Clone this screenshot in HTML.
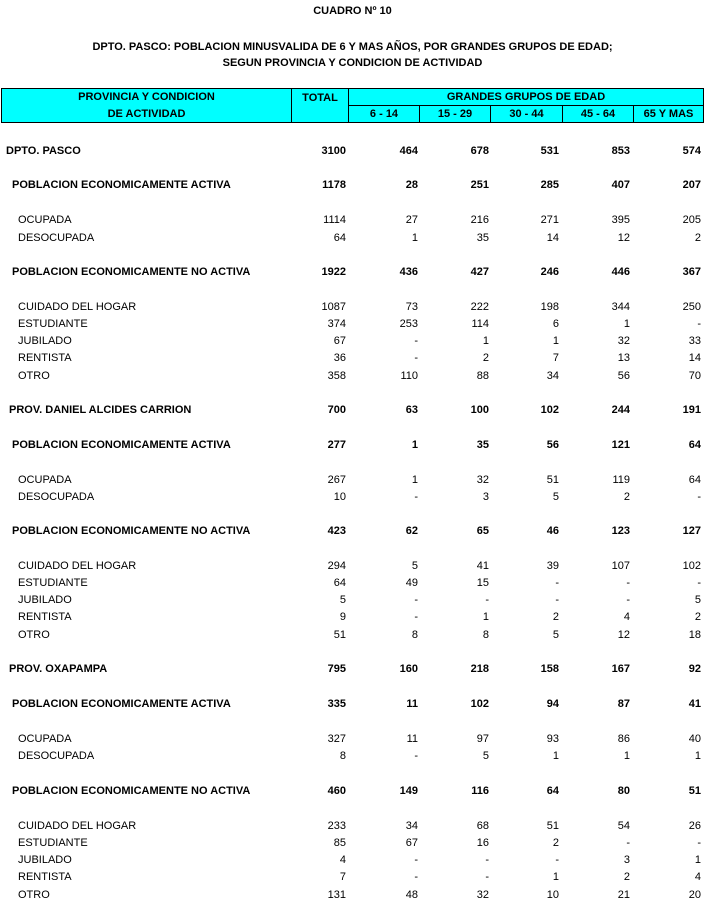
<!DOCTYPE html>
<html><head><meta charset="utf-8"><style>
body{margin:0;width:705px;height:902px;background:#fff;position:relative;font-family:"Liberation Sans",Arial,sans-serif;font-size:11px;color:#000;overflow:hidden}
.t{position:absolute;left:0;width:705px;text-align:center;font-weight:bold;font-size:11px;margin-top:1px}
.r{position:absolute;left:0;width:705px;height:14px;line-height:14px;margin-top:1px}
.r span{position:absolute;white-space:nowrap}
.b{font-weight:bold}
.n{text-align:right;width:60px}
.hd{position:absolute;background:#00ffff;border:1px solid #000;box-sizing:border-box;font-weight:bold;text-align:center;line-height:16px}
</style></head><body>
<div class="t" style="top:4px">CUADRO Nº 10</div>
<div class="t" style="top:40px">DPTO. PASCO: POBLACION MINUSVALIDA DE 6 Y MAS AÑOS, POR GRANDES GRUPOS DE EDAD;</div>
<div class="t" style="top:56px">SEGUN PROVINCIA Y CONDICION DE ACTIVIDAD</div>

<div class="hd" style="left:1px;top:88px;width:291px;height:35px;line-height:17px">PROVINCIA Y CONDICION<br>DE ACTIVIDAD</div>
<div class="hd" style="left:291px;top:88px;width:58px;height:35px;line-height:19px">TOTAL</div>
<div class="hd" style="left:348px;top:88px;width:356px;height:18px">GRANDES GRUPOS DE EDAD</div>
<div class="hd" style="left:348px;top:105px;width:72px;height:18px">6 - 14</div>
<div class="hd" style="left:419px;top:105px;width:72px;height:18px">15 - 29</div>
<div class="hd" style="left:490px;top:105px;width:73px;height:18px">30 - 44</div>
<div class="hd" style="left:562px;top:105px;width:72px;height:18px">45 - 64</div>
<div class="hd" style="left:633px;top:105px;width:71px;height:18px">65 Y MAS</div>

<div class="r b" style="top:143px"><span style="left:6px">DPTO. PASCO</span><span class="n" style="left:286px">3100</span><span class="n" style="left:358px">464</span><span class="n" style="left:429px">678</span><span class="n" style="left:499px">531</span><span class="n" style="left:570px">853</span><span class="n" style="left:641px">574</span></div>
<div class="r b" style="top:177px"><span style="left:12px">POBLACION ECONOMICAMENTE ACTIVA</span><span class="n" style="left:286px">1178</span><span class="n" style="left:358px">28</span><span class="n" style="left:429px">251</span><span class="n" style="left:499px">285</span><span class="n" style="left:570px">407</span><span class="n" style="left:641px">207</span></div>
<div class="r" style="top:212px"><span style="left:18px">OCUPADA</span><span class="n" style="left:286px">1114</span><span class="n" style="left:358px">27</span><span class="n" style="left:429px">216</span><span class="n" style="left:499px">271</span><span class="n" style="left:570px">395</span><span class="n" style="left:641px">205</span></div>
<div class="r" style="top:230px"><span style="left:18px">DESOCUPADA</span><span class="n" style="left:286px">64</span><span class="n" style="left:358px">1</span><span class="n" style="left:429px">35</span><span class="n" style="left:499px">14</span><span class="n" style="left:570px">12</span><span class="n" style="left:641px">2</span></div>
<div class="r b" style="top:264px"><span style="left:12px">POBLACION ECONOMICAMENTE NO ACTIVA</span><span class="n" style="left:286px">1922</span><span class="n" style="left:358px">436</span><span class="n" style="left:429px">427</span><span class="n" style="left:499px">246</span><span class="n" style="left:570px">446</span><span class="n" style="left:641px">367</span></div>
<div class="r" style="top:299px"><span style="left:18px">CUIDADO DEL HOGAR</span><span class="n" style="left:286px">1087</span><span class="n" style="left:358px">73</span><span class="n" style="left:429px">222</span><span class="n" style="left:499px">198</span><span class="n" style="left:570px">344</span><span class="n" style="left:641px">250</span></div>
<div class="r" style="top:316px"><span style="left:18px">ESTUDIANTE</span><span class="n" style="left:286px">374</span><span class="n" style="left:358px">253</span><span class="n" style="left:429px">114</span><span class="n" style="left:499px">6</span><span class="n" style="left:570px">1</span><span class="n" style="left:641px">-</span></div>
<div class="r" style="top:333px"><span style="left:18px">JUBILADO</span><span class="n" style="left:286px">67</span><span class="n" style="left:358px">-</span><span class="n" style="left:429px">1</span><span class="n" style="left:499px">1</span><span class="n" style="left:570px">32</span><span class="n" style="left:641px">33</span></div>
<div class="r" style="top:350px"><span style="left:18px">RENTISTA</span><span class="n" style="left:286px">36</span><span class="n" style="left:358px">-</span><span class="n" style="left:429px">2</span><span class="n" style="left:499px">7</span><span class="n" style="left:570px">13</span><span class="n" style="left:641px">14</span></div>
<div class="r" style="top:368px"><span style="left:18px">OTRO</span><span class="n" style="left:286px">358</span><span class="n" style="left:358px">110</span><span class="n" style="left:429px">88</span><span class="n" style="left:499px">34</span><span class="n" style="left:570px">56</span><span class="n" style="left:641px">70</span></div>

<div class="r b" style="top:402px"><span style="left:9px">PROV. DANIEL ALCIDES CARRION</span><span class="n" style="left:286px">700</span><span class="n" style="left:358px">63</span><span class="n" style="left:429px">100</span><span class="n" style="left:499px">102</span><span class="n" style="left:570px">244</span><span class="n" style="left:641px">191</span></div>
<div class="r b" style="top:437px"><span style="left:12px">POBLACION ECONOMICAMENTE ACTIVA</span><span class="n" style="left:286px">277</span><span class="n" style="left:358px">1</span><span class="n" style="left:429px">35</span><span class="n" style="left:499px">56</span><span class="n" style="left:570px">121</span><span class="n" style="left:641px">64</span></div>
<div class="r" style="top:472px"><span style="left:18px">OCUPADA</span><span class="n" style="left:286px">267</span><span class="n" style="left:358px">1</span><span class="n" style="left:429px">32</span><span class="n" style="left:499px">51</span><span class="n" style="left:570px">119</span><span class="n" style="left:641px">64</span></div>
<div class="r" style="top:489px"><span style="left:18px">DESOCUPADA</span><span class="n" style="left:286px">10</span><span class="n" style="left:358px">-</span><span class="n" style="left:429px">3</span><span class="n" style="left:499px">5</span><span class="n" style="left:570px">2</span><span class="n" style="left:641px">-</span></div>
<div class="r b" style="top:523px"><span style="left:12px">POBLACION ECONOMICAMENTE NO ACTIVA</span><span class="n" style="left:286px">423</span><span class="n" style="left:358px">62</span><span class="n" style="left:429px">65</span><span class="n" style="left:499px">46</span><span class="n" style="left:570px">123</span><span class="n" style="left:641px">127</span></div>
<div class="r" style="top:558px"><span style="left:18px">CUIDADO DEL HOGAR</span><span class="n" style="left:286px">294</span><span class="n" style="left:358px">5</span><span class="n" style="left:429px">41</span><span class="n" style="left:499px">39</span><span class="n" style="left:570px">107</span><span class="n" style="left:641px">102</span></div>
<div class="r" style="top:575px"><span style="left:18px">ESTUDIANTE</span><span class="n" style="left:286px">64</span><span class="n" style="left:358px">49</span><span class="n" style="left:429px">15</span><span class="n" style="left:499px">-</span><span class="n" style="left:570px">-</span><span class="n" style="left:641px">-</span></div>
<div class="r" style="top:592px"><span style="left:18px">JUBILADO</span><span class="n" style="left:286px">5</span><span class="n" style="left:358px">-</span><span class="n" style="left:429px">-</span><span class="n" style="left:499px">-</span><span class="n" style="left:570px">-</span><span class="n" style="left:641px">5</span></div>
<div class="r" style="top:609px"><span style="left:18px">RENTISTA</span><span class="n" style="left:286px">9</span><span class="n" style="left:358px">-</span><span class="n" style="left:429px">1</span><span class="n" style="left:499px">2</span><span class="n" style="left:570px">4</span><span class="n" style="left:641px">2</span></div>
<div class="r" style="top:627px"><span style="left:18px">OTRO</span><span class="n" style="left:286px">51</span><span class="n" style="left:358px">8</span><span class="n" style="left:429px">8</span><span class="n" style="left:499px">5</span><span class="n" style="left:570px">12</span><span class="n" style="left:641px">18</span></div>

<div class="r b" style="top:661px"><span style="left:9px">PROV. OXAPAMPA</span><span class="n" style="left:286px">795</span><span class="n" style="left:358px">160</span><span class="n" style="left:429px">218</span><span class="n" style="left:499px">158</span><span class="n" style="left:570px">167</span><span class="n" style="left:641px">92</span></div>
<div class="r b" style="top:696px"><span style="left:12px">POBLACION ECONOMICAMENTE ACTIVA</span><span class="n" style="left:286px">335</span><span class="n" style="left:358px">11</span><span class="n" style="left:429px">102</span><span class="n" style="left:499px">94</span><span class="n" style="left:570px">87</span><span class="n" style="left:641px">41</span></div>
<div class="r" style="top:731px"><span style="left:18px">OCUPADA</span><span class="n" style="left:286px">327</span><span class="n" style="left:358px">11</span><span class="n" style="left:429px">97</span><span class="n" style="left:499px">93</span><span class="n" style="left:570px">86</span><span class="n" style="left:641px">40</span></div>
<div class="r" style="top:748px"><span style="left:18px">DESOCUPADA</span><span class="n" style="left:286px">8</span><span class="n" style="left:358px">-</span><span class="n" style="left:429px">5</span><span class="n" style="left:499px">1</span><span class="n" style="left:570px">1</span><span class="n" style="left:641px">1</span></div>
<div class="r b" style="top:783px"><span style="left:12px">POBLACION ECONOMICAMENTE NO ACTIVA</span><span class="n" style="left:286px">460</span><span class="n" style="left:358px">149</span><span class="n" style="left:429px">116</span><span class="n" style="left:499px">64</span><span class="n" style="left:570px">80</span><span class="n" style="left:641px">51</span></div>
<div class="r" style="top:818px"><span style="left:18px">CUIDADO DEL HOGAR</span><span class="n" style="left:286px">233</span><span class="n" style="left:358px">34</span><span class="n" style="left:429px">68</span><span class="n" style="left:499px">51</span><span class="n" style="left:570px">54</span><span class="n" style="left:641px">26</span></div>
<div class="r" style="top:835px"><span style="left:18px">ESTUDIANTE</span><span class="n" style="left:286px">85</span><span class="n" style="left:358px">67</span><span class="n" style="left:429px">16</span><span class="n" style="left:499px">2</span><span class="n" style="left:570px">-</span><span class="n" style="left:641px">-</span></div>
<div class="r" style="top:852px"><span style="left:18px">JUBILADO</span><span class="n" style="left:286px">4</span><span class="n" style="left:358px">-</span><span class="n" style="left:429px">-</span><span class="n" style="left:499px">-</span><span class="n" style="left:570px">3</span><span class="n" style="left:641px">1</span></div>
<div class="r" style="top:869px"><span style="left:18px">RENTISTA</span><span class="n" style="left:286px">7</span><span class="n" style="left:358px">-</span><span class="n" style="left:429px">-</span><span class="n" style="left:499px">1</span><span class="n" style="left:570px">2</span><span class="n" style="left:641px">4</span></div>
<div class="r" style="top:887px"><span style="left:18px">OTRO</span><span class="n" style="left:286px">131</span><span class="n" style="left:358px">48</span><span class="n" style="left:429px">32</span><span class="n" style="left:499px">10</span><span class="n" style="left:570px">21</span><span class="n" style="left:641px">20</span></div>
</body></html>
